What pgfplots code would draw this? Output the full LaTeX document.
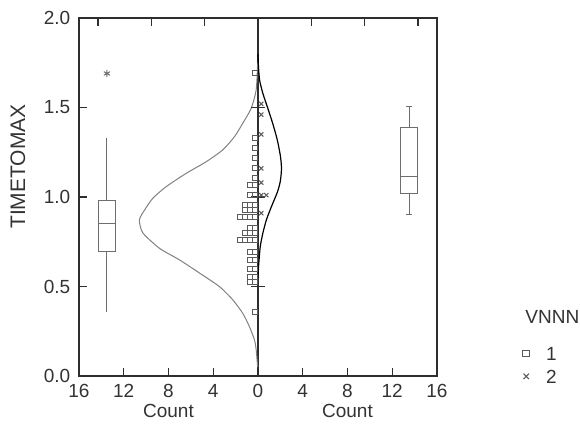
\documentclass[border=0pt]{standalone}
\usepackage{fontspec}
\setmainfont{Liberation Sans}
\usepackage{pgfplots}
\pgfplotsset{compat=1.18}
\usepgfplotslibrary{statistics}
\definecolor{frm}{HTML}{2E2E2E}
\definecolor{txt}{HTML}{333333}
\definecolor{sq}{HTML}{5A5A5A}
\definecolor{bx}{HTML}{6E6E6E}
\definecolor{lc}{HTML}{808080}
\begin{document}
\fontsize{9.5}{11}\selectfont
\begin{tikzpicture}
\path[use as bounding box] (0,0) rectangle (290pt,215.5pt);
\begin{axis}[
  at={(39.5pt,27.5pt)}, anchor=south west,
  scale only axis, width=179pt, height=179pt,
  xmin=-16, xmax=16, ymin=0, ymax=2,
  xtick={-16,-12,-8,-4,0,4,8,12,16},
  xticklabels={16,12,8,4,0,4,8,12,16},
  ytick={0,0.5,1,1.5,2},
  yticklabels={0.0,0.5,1.0,1.5,2.0},
  tick align=inside, xtick pos=bottom, ytick pos=left,
  major tick length=4pt,
  axis line style={frm, line width=0.6pt},
  tick style={frm, line width=0.6pt},
  ticklabel style={font=\fontsize{9.5}{11}\selectfont, text=txt},
  xticklabel style={yshift=-1pt},
  yticklabel style={xshift=-1pt},
  clip=false,
  legend style={at={(1.239,0.031)}, anchor=west, draw=none, fill=none,
    font=\fontsize{9.5}{11}\selectfont, text=txt, row sep=4.5pt,
    inner xsep=0pt, inner ysep=0pt,
    nodes={inner sep=0pt, text height=7pt, text depth=0pt},
    /tikz/every odd column/.append style={column sep=8.3pt}},
  legend cell align=left,
  legend image code/.code={\draw[#1, every mark/.append style={scale=1.3}] plot coordinates {(0.15cm,0cm)};},
]
% center axis line
\addplot[frm, line width=0.6pt, forget plot] coordinates {(0,0) (0,2)};
% density curves
\addplot[lc, line width=0.5pt, smooth, tension=0.4, forget plot] coordinates {
 (-0.03,1.75) (-0.16,1.60) (-0.61,1.495) (-1.36,1.412) (-2.1,1.337) (-3.15,1.263)
 (-4.63,1.197) (-6.42,1.132) (-8.2,1.058) (-9.4,0.993) (-10.14,0.927) (-10.6,0.872)
 (-10.3,0.80) (-8.8,0.713) (-7.0,0.648) (-5.2,0.574) (-3.44,0.499) (-2.25,0.425)
 (-1.36,0.35) (-0.76,0.275) (-0.31,0.2) (-0.16,0.145) (-0.03,0.05)};
\addplot[black, line width=0.6pt, smooth, tension=0.4, forget plot] coordinates {
 (0.0,1.80) (0.05,1.72) (0.15,1.65) (0.43,1.58) (0.88,1.495) (1.32,1.41) (1.72,1.32)
 (2.0,1.23) (2.1,1.16) (2.0,1.09) (1.75,1.03) (1.2,0.946) (0.75,0.872) (0.43,0.797)
 (0.2,0.722) (0.06,0.62) (0.0,0.55)};
% box plots
\addplot[bx, line width=0.5pt, mark=asterisk, mark size=1.8pt, forget plot,
  boxplot prepared={draw direction=y, draw position=-13.5, box extend=1.6,
    whisker extend=0, lower whisker=0.357, lower quartile=0.698, median=0.85,
    upper quartile=0.983, upper whisker=1.33}]
  table[row sep=\\, y index=0] {1.69\\};
\addplot[bx, line width=0.5pt, forget plot,
  boxplot prepared={draw direction=y, draw position=13.5, box extend=1.6,
    whisker extend=0.5, lower whisker=0.90, lower quartile=1.022, median=1.117,
    upper quartile=1.39, upper whisker=1.508}]
  coordinates {};
% dots
\addplot[only marks, mark=square, mark size=1.25pt, sq, line width=0.5pt] coordinates {
 (-0.27,1.691) (-0.27,1.328) (-0.27,1.272) (-0.27,1.216) (-0.27,1.160) (-0.27,1.104)
 (-0.27,1.065) (-0.72,1.065)
 (-0.27,1.011) (-0.72,1.011)
 (-0.27,0.955) (-0.72,0.955) (-1.17,0.955)
 (-0.27,0.927) (-0.72,0.927) (-1.17,0.927)
 (-0.27,0.89) (-0.72,0.89) (-1.17,0.89) (-1.62,0.89)
 (-0.27,0.825) (-0.72,0.825)
 (-0.27,0.797) (-0.72,0.797) (-1.17,0.797)
 (-0.27,0.76) (-0.72,0.76) (-1.17,0.76) (-1.62,0.76)
 (-0.27,0.694) (-0.72,0.694)
 (-0.27,0.648) (-0.72,0.648)
 (-0.27,0.596) (-0.72,0.596)
 (-0.27,0.555) (-0.72,0.555)
 (-0.27,0.527) (-0.72,0.527)
 (-0.27,0.359)};
\addlegendentry{1}
\addplot[only marks, mark=x, mark size=1.5pt, sq, line width=0.5pt] coordinates {
 (0.29,1.52) (0.29,1.46) (0.29,1.35) (0.29,1.16) (0.29,1.08) (0.29,1.01) (0.74,1.01) (0.29,0.91)};
\addlegendentry{2}
% center-line ticks and top ticks
\pgfplotsinvokeforeach{0.5,1,1.5}{\draw[frm, line width=0.6pt] ([xshift=-3.5pt]axis cs:0,#1) -- ([xshift=3.5pt]axis cs:0,#1);}
\pgfplotsinvokeforeach{-14.3,-9.55,-4.75,4.75,9.55,14.3}{\draw[frm, line width=0.6pt] (axis cs:#1,2) -- ([yshift=-4pt]axis cs:#1,2);}
% labels
\node[text=txt, font=\fontsize{9.5}{11}\selectfont] at ([yshift=-17.5pt]axis cs:-8,0) {Count};
\node[text=txt, font=\fontsize{9.5}{11}\selectfont] at ([yshift=-17.5pt]axis cs:8,0) {Count};
\node[text=txt, font=\fontsize{10.5}{12}\selectfont, rotate=90] at ([xshift=-30.5pt]rel axis cs:0,0.585) {TIMETOMAX};
\node[text=txt, font=\fontsize{9.5}{11}\selectfont, anchor=west, inner sep=0pt] at (rel axis cs:1.246,0.165) {VNNN};
\end{axis}
\end{tikzpicture}
\end{document}
